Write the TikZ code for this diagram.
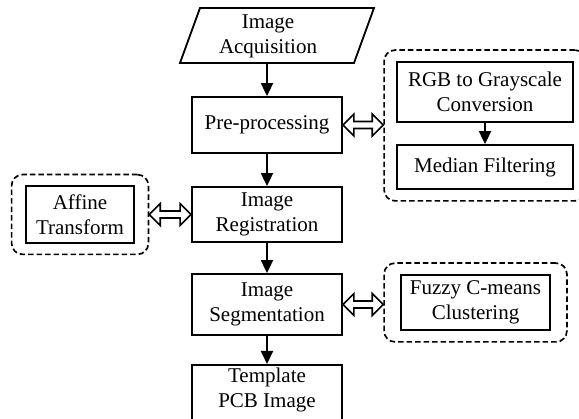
\documentclass[tikz,border=0pt]{standalone}
\usepackage{fontspec}
\setmainfont{Liberation Serif}
\usetikzlibrary{arrows.meta,calc,fit}
\newcommand\dblarrow[2]{%
  \draw[dbl] let \p1=(#1), \p2=(#2) in
    (\x1,\y1) -- ({\x1+11pt},{\y1+11pt}) -- ({\x1+11pt},{\y1+3.5pt})
    -- ({\x2-11pt},{\y1+3.5pt}) -- ({\x2-11pt},{\y1+11pt}) -- (\x2,\y1)
    -- ({\x2-11pt},{\y1-11pt}) -- ({\x2-11pt},{\y1-3.5pt})
    -- ({\x1+11pt},{\y1-3.5pt}) -- ({\x1+11pt},{\y1-11pt}) -- cycle;}
\begin{document}
\begin{tikzpicture}[x=1pt,y=-1pt,
  font=\fontsize{21}{25}\selectfont,
  frame/.style={draw, line width=1.8pt, align=center, inner sep=0pt},
  box/.style={frame, minimum width=150pt},
  flow/.style={-{Triangle[length=13pt,width=12pt]}, line width=1.8pt},
  grp/.style={draw, line width=1.7pt, dash pattern=on 5.5pt off 3pt, rounded corners=11pt},
  dbl/.style={line width=1.6pt, fill=white, line join=miter}]
\clip (0,0) rectangle (579,419);
\useasboundingbox (0,0) rectangle (579,419);
% main column
\draw[line width=1.8pt, line join=miter] (180,63) -- (200,8) -- (374,8) -- (354,63) -- cycle;
\node[align=center] (acq) at (268,36) {Image\\Acquisition};
\coordinate (acqS) at (267,63);
\node[box, minimum height=56pt] (pre) at (267,125) {Pre-processing};
\node[box, minimum height=55pt] (reg) at (267,214.5) {Image\\Registration};
\node[box, minimum height=61pt] (seg) at (267,304.5) {Image\\Segmentation};
\node[box, minimum height=70pt, anchor=north] (tpl) at (267,364) {};
\node[align=center] (tpltxt) at (267,390) {Template\\PCB Image};
% right group 1
\node[frame, minimum width=176pt, minimum height=60pt] (rgb) at (485,92) {RGB to Grayscale\\Conversion};
\node[frame, minimum width=176pt, minimum height=44pt] (med) at (485,167) {Median Filtering};
\node[grp, fit=(rgb)(med), inner xsep=12pt, inner ysep=11pt] (g1) {};
% left group
\node[frame, minimum width=108pt, minimum height=57pt] (aff) at (80,214.5) {Affine\\Transform};
\node[grp, fit=(aff), inner xsep=13.5pt, inner ysep=10.5pt] (g2) {};
% right group 3
\node[frame, minimum width=149pt, minimum height=55pt] (fcm) at (475.5,302.5) {Fuzzy C-means\\Clustering};
\node[grp, fit=(fcm), inner xsep=16pt, inner ysep=11pt] (g3) {};
% arrows
\draw[flow] (acqS) -- (pre.north);
\draw[flow] (pre) -- (reg);
\draw[flow] (reg) -- (seg);
\draw[flow] (seg) -- (tpl.north);
\draw[flow] (rgb) -- (med);
\dblarrow{pre.east}{g1.west}
\dblarrow{g2.east}{reg.west}
\dblarrow{seg.east}{g3.west}
\end{tikzpicture}
\end{document}
